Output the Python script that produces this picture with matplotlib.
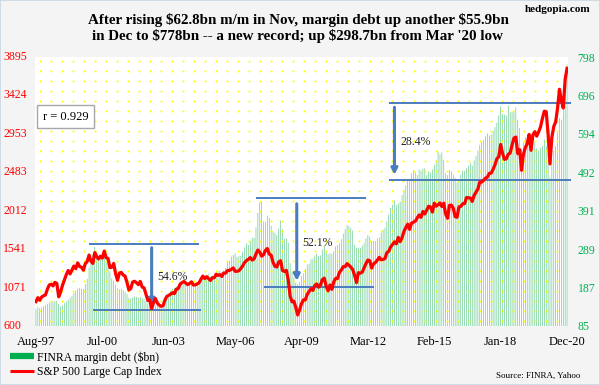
import numpy as np
import matplotlib
matplotlib.use("Agg")
import matplotlib.pyplot as plt
import matplotlib.transforms as mtransforms
from matplotlib.lines import Line2D
from matplotlib.patches import Rectangle

# ---------------- data (monthly, Aug-97 .. Dec-20) ----------------
sp500 = [
    # 1997 Aug-Dec
    899, 947, 915, 955, 970,
    # 1998
    980, 1049, 1102, 1112, 1091, 1134, 1121, 957, 1017, 1099, 1164, 1229,
    # 1999
    1280, 1238, 1286, 1335, 1302, 1373, 1329, 1320, 1283, 1363, 1389, 1469,
    # 2000
    1394, 1366, 1499, 1452, 1421, 1455, 1431, 1518, 1437, 1429, 1315, 1320,
    # 2001
    1366, 1240, 1160, 1249, 1256, 1224, 1211, 1134, 1041, 1060, 1139, 1148,
    # 2002
    1130, 1107, 1147, 1077, 1067, 990, 912, 916, 815, 886, 936, 880,
    # 2003
    856, 841, 848, 917, 964, 975, 990, 1008, 996, 1051, 1058, 1112,
    # 2004
    1131, 1145, 1126, 1107, 1121, 1141, 1102, 1104, 1115, 1130, 1174, 1212,
    # 2005
    1181, 1204, 1181, 1157, 1192, 1191, 1234, 1220, 1229, 1207, 1249, 1248,
    # 2006
    1280, 1281, 1295, 1311, 1270, 1270, 1277, 1304, 1336, 1378, 1401, 1418,
    # 2007
    1438, 1407, 1421, 1482, 1531, 1503, 1455, 1474, 1527, 1549, 1481, 1468,
    # 2008
    1379, 1331, 1323, 1386, 1400, 1280, 1267, 1283, 1166, 969, 896, 903,
    # 2009
    826, 735, 798, 873, 919, 919, 987, 1021, 1057, 1036, 1096, 1115,
    # 2010
    1074, 1104, 1169, 1187, 1089, 1031, 1102, 1049, 1141, 1183, 1181, 1258,
    # 2011
    1286, 1327, 1326, 1364, 1345, 1321, 1292, 1219, 1131, 1253, 1247, 1258,
    # 2012
    1312, 1366, 1408, 1398, 1310, 1362, 1379, 1407, 1441, 1412, 1416, 1426,
    # 2013
    1498, 1515, 1569, 1598, 1631, 1606, 1686, 1633, 1682, 1757, 1806, 1848,
    # 2014
    1783, 1859, 1872, 1884, 1924, 1960, 1931, 2003, 1972, 2018, 2068, 2059,
    # 2015
    1995, 2105, 2068, 2086, 2107, 2063, 2104, 1972, 1920, 2079, 2080, 2044,
    # 2016
    1940, 1932, 2060, 2065, 2097, 2099, 2174, 2171, 2168, 2126, 2199, 2239,
    # 2017
    2279, 2364, 2363, 2384, 2412, 2423, 2470, 2472, 2519, 2575, 2648, 2674,
    # 2018
    2824, 2714, 2641, 2648, 2705, 2718, 2816, 2902, 2914, 2712, 2760, 2507,
    # 2019
    2704, 2784, 2834, 2946, 2752, 2942, 2980, 2926, 2977, 3038, 3141, 3231,
    # 2020
    3226, 2954, 2585, 2912, 3044, 3100, 3271, 3500, 3363, 3270, 3622, 3756,
]

margin_debt = [
    # 1997 Aug-Dec
    130, 136, 132, 134, 138,
    # 1998
    140, 143, 147, 149, 150, 151, 152, 143, 136, 140, 146, 150,
    # 1999
    155, 160, 165, 172, 178, 184, 186, 184, 183, 196, 210, 240,
    # 2000
    260, 275, 295, 283, 268, 265, 262, 267, 264, 255, 230, 212,
    # 2001
    205, 195, 185, 182, 184, 180, 175, 170, 160, 157, 160, 163,
    # 2002
    162, 160, 162, 158, 156, 152, 145, 142, 135, 137, 140, 141,
    # 2003
    140, 138, 140, 148, 158, 168, 178, 184, 186, 190, 192, 194,
    # 2004
    196, 200, 201, 198, 196, 197, 194, 193, 195, 198, 204, 215,
    # 2005
    215, 218, 222, 216, 218, 220, 226, 230, 232, 228, 232, 240,
    # 2006
    255, 258, 269, 273, 278, 268, 271, 271, 282, 293, 304, 300,
    # 2007
    311, 319, 319, 346, 385, 412, 415, 362, 361, 377, 371, 351,
    # 2008
    335, 332, 326, 343, 365, 342, 315, 317, 306, 252, 229, 214,
    # 2009
    200, 196, 202, 218, 225, 236, 248, 250, 262, 262, 270, 276,
    # 2010
    270, 272, 288, 298, 282, 275, 278, 276, 283, 296, 300, 305,
    # 2011
    315, 330, 342, 353, 350, 345, 338, 300, 292, 293, 292, 298,
    # 2012
    305, 318, 326, 322, 310, 310, 310, 317, 320, 332, 340, 346,
    # 2013
    362, 380, 398, 406, 418, 405, 410, 414, 432, 446, 458, 470,
    # 2014
    470, 490, 498, 492, 485, 500, 497, 502, 503, 485, 494, 492,
    # 2015
    500, 512, 525, 547, 540, 545, 525, 490, 485, 498, 495, 486,
    # 2016
    478, 466, 472, 486, 497, 496, 503, 510, 516, 510, 524, 535,
    # 2017
    550, 565, 572, 578, 588, 595, 590, 592, 602, 612, 624, 643,
    # 2018
    666, 646, 645, 642, 669, 652, 653, 655, 664, 632, 610, 554,
    # 2019
    571, 585, 580, 592, 560, 558, 571, 555, 550, 556, 562, 579,
    # 2020
    562, 545, 479, 525, 549, 561, 598, 637, 632, 659, 722, 778,
]

x_tick_labels = ["Aug-97", "Jul-00", "Jun-03", "May-06", "Apr-09",
                 "Mar-12", "Feb-15", "Jan-18", "Dec-20"]
left_ticks = [600, 1071, 1541, 2012, 2483, 2953, 3424, 3895]
right_ticks = [85, 187, 289, 391, 492, 594, 696, 798]

# drawdown annotations: (label, peak window, trough window)
drawdowns = [
    ("54.6%", (25, 40), (55, 70)),
    ("52.1%", (110, 125), (130, 145)),
    ("28.4%", (245, 256), (266, 274)),
]

title = ("After rising $62.8bn m/m in Nov, margin debt up another $55.9bn\n"
         "in Dec to $778bn -- a new record; up $298.7bn from Mar '20 low")
r_text = "r = 0.929"

# ---------------- figure ----------------
SERIF = ["Liberation Serif", "DejaVu Serif"]
plt.rcParams["font.family"] = SERIF
plt.rcParams["text.parse_math"] = False

W, H = 600, 385
fig = plt.figure(figsize=(6, 3.85), dpi=100, facecolor="#f4f4f4")
fig.patches.append(Rectangle((0, 0), 1, 1, transform=fig.transFigure,
                             fill=False, edgecolor="#c9d6e3", lw=1.2))

L, R, T, B = 35, 568, 57, 326
ax = fig.add_axes([L / W, 1 - B / H, (R - L) / W, (B - T) / H])
ax.set_facecolor("white")
ax2 = ax.twinx()
n = len(margin_debt)
xs = np.arange(n)

# yellow dotted background
dx, dy = 11 / (R - L), 10 / (B - T)
gx, gy = np.meshgrid(np.arange(0.01, 1.0, dx), np.arange(0.02, 1.0, dy))
ax.scatter(gx.ravel(), gy.ravel(), s=2.2, color="#ffff00", lw=0,
           transform=ax.transAxes, zorder=2)

# margin debt bars (right scale)
bars = ax.bar(xs, margin_debt, width=0.3, color="#4cc27e", lw=0,
              zorder=1, bottom=0)
for b in bars:
    b.set_snap(False)
ax.set_xlim(-0.5, n - 0.5)
ax.set_ylim(right_ticks[0], right_ticks[-1])
ax.yaxis.tick_right()
ax.set_yticks(right_ticks)
ax.set_yticklabels([str(t) for t in right_ticks])
ax.tick_params(axis="y", length=0, pad=7, labelsize=8.5, labelcolor="#00b050")

tick_pos = np.arange(0, n, 35)
ax.set_xticks(tick_pos)
ax.set_xticklabels(x_tick_labels)
ax.tick_params(axis="x", length=0, pad=7, labelsize=9)
for s in ax.spines.values():
    s.set_visible(False)

# drawdown annotations
blue = "#4a7cbf"
ann_x = [(28, 86, 30, 87, 61, 64),
         (116, 174, 120, 178, 137.5, 140.6),
         (186, 282, 186, 282, 189, 192.3)]
for (lab, pw, tw), (t0, t1, b0, b1, axx, tx) in zip(drawdowns, ann_x):
    peak = max(margin_debt[pw[0]:pw[1]]) + 8
    trough = min(margin_debt[tw[0]:tw[1]]) - 8
    ax.plot([t0, t1], [peak, peak], color=blue, lw=1.4, zorder=3,
            solid_capstyle="butt", clip_on=False)
    ax.plot([b0, b1], [trough, trough], color=blue, lw=1.4, zorder=3,
            solid_capstyle="butt", clip_on=False)
    gap = (peak - trough) * 0.06
    ax.annotate("", xy=(axx, trough + gap * 1.2), xytext=(axx, peak - gap),
                arrowprops=dict(arrowstyle="-|>,head_length=0.35,head_width=0.18",
                                color=blue, lw=2.2, shrinkA=0, shrinkB=0),
                zorder=3)
    ax.text(tx, (peak + trough) / 2, lab, fontsize=8.5, va="center",
            ha="left", color="#222222", zorder=4)

# S&P 500 line (left scale)
ax2.plot(xs, sp500, color="#ff0000", lw=2.3, zorder=5, solid_joinstyle="round")
ax2.set_ylim(left_ticks[0], left_ticks[-1])
ax2.set_yticks([])
ax2.tick_params(axis="both", length=0, labelleft=False, labelright=False)
for s in ax2.spines.values():
    s.set_visible(False)
# left tick labels, left-aligned at the figure edge like the reference
lab_tr = mtransforms.blended_transform_factory(fig.transFigure, ax2.transData)
for t in left_ticks:
    ax2.text(3 / W, t, str(t), transform=lab_tr, ha="left", va="center",
             fontsize=8.5, color="#ff0000", clip_on=False)

# r box
fig.text(65.5 / W, 1 - 116.5 / H, r_text, fontsize=9, ha="center", va="center",
         bbox=dict(boxstyle="square,pad=0.45", facecolor="white",
                   edgecolor="#a8a8a8", lw=1))

# titles
fig.text(298 / W, 1 - 28 / H, title, ha="center", va="center", fontsize=10.8,
         fontweight="bold", linespacing=1.2)
fig.text(590 / W, 1 - 10 / H, "hedgopia.com", ha="right", va="center",
         fontsize=8, fontweight="bold")
fig.text(580 / W, 1 - 376 / H, "Source: FINRA, Yahoo", ha="right", va="center",
         fontsize=6.5)

# legend
handles = [Line2D([], [], color="#00b050", lw=4.5, solid_capstyle="butt"),
           Line2D([], [], color="#ff0000", lw=2.2, solid_capstyle="butt")]
fig.legend(handles, ["FINRA margin debt ($bn)", "S&P 500 Large Cap Index"],
           loc="upper left", bbox_to_anchor=(10 / W, 1 - 351 / H),
           frameon=False, fontsize=8.5, handlelength=2.0, handletextpad=0.3,
           labelspacing=0.2, borderaxespad=0, borderpad=0)

fig.savefig("out.png", dpi=100, facecolor=fig.get_facecolor())
